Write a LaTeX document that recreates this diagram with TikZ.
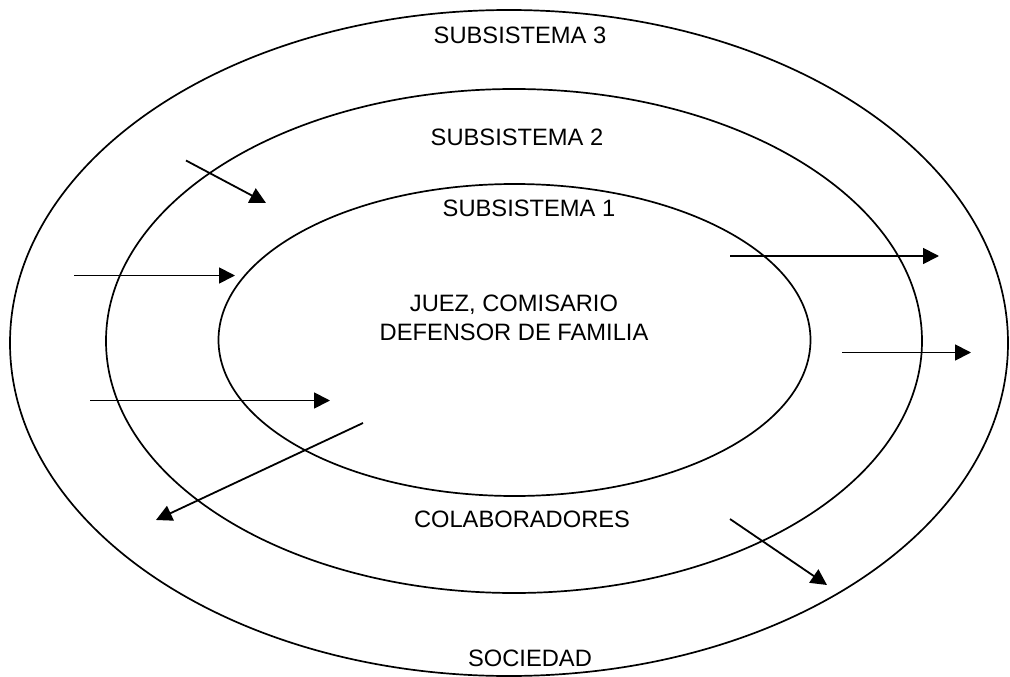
\documentclass[tikz,border=0pt]{standalone}
\usepackage{fontspec}
\setmainfont{Liberation Sans}
\usetikzlibrary{arrows.meta}
\begin{document}
\begin{tikzpicture}[x=1pt,y=-1pt,
  ring/.style={draw=black,line width=1.7pt},
  lbl/.style={inner sep=0pt,font=\fontsize{23.7}{28.5}\selectfont,align=center},
  arr/.style={draw=black,line width=1.8pt,-{Triangle[length=16pt,width=16pt]}}]
\useasboundingbox (0,0) rectangle (1010,677);
% ellipses
\draw[ring] (509,343) ellipse [x radius=499, y radius=333];
\draw[ring] (514,341) ellipse [x radius=408, y radius=252];
\draw[ring] (514.5,340) ellipse [x radius=296, y radius=156];
% labels
\node[lbl] (s3) at (520,35) {SUBSISTEMA 3};
\node[lbl] (s2) at (517,137) {SUBSISTEMA 2};
\node[lbl] (s1) at (529,208.5) {SUBSISTEMA 1};
\node[lbl] (juez) at (514,318) {JUEZ, COMISARIO\\DEFENSOR DE FAMILIA};
\node[lbl] (col) at (522,519) {COLABORADORES};
\node[lbl] (soc) at (530,658.5) {SOCIEDAD};
% arrow end points
\coordinate (a1s) at (186,160.5); \coordinate (a1e) at (266,203);
\coordinate (a2s) at (74,275.5);  \coordinate (a2e) at (235,275.5);
\coordinate (a3s) at (90,400.5);  \coordinate (a3e) at (330,400.5);
\coordinate (a4s) at (363,423);   \coordinate (a4e) at (156,520);
\coordinate (a5s) at (730,256);   \coordinate (a5e) at (939,256);
\coordinate (a6s) at (842,352.5); \coordinate (a6e) at (971,352.5);
\coordinate (a7s) at (730,519);   \coordinate (a7e) at (827,585);
\draw[arr] (a1s) -- (a1e);
\draw[arr] (a2s) -- (a2e);
\draw[arr] (a3s) -- (a3e);
\draw[arr] (a4s) -- (a4e);
\draw[arr] (a5s) -- (a5e);
\draw[arr] (a6s) -- (a6e);
\draw[arr] (a7s) -- (a7e);
\end{tikzpicture}
\end{document}
